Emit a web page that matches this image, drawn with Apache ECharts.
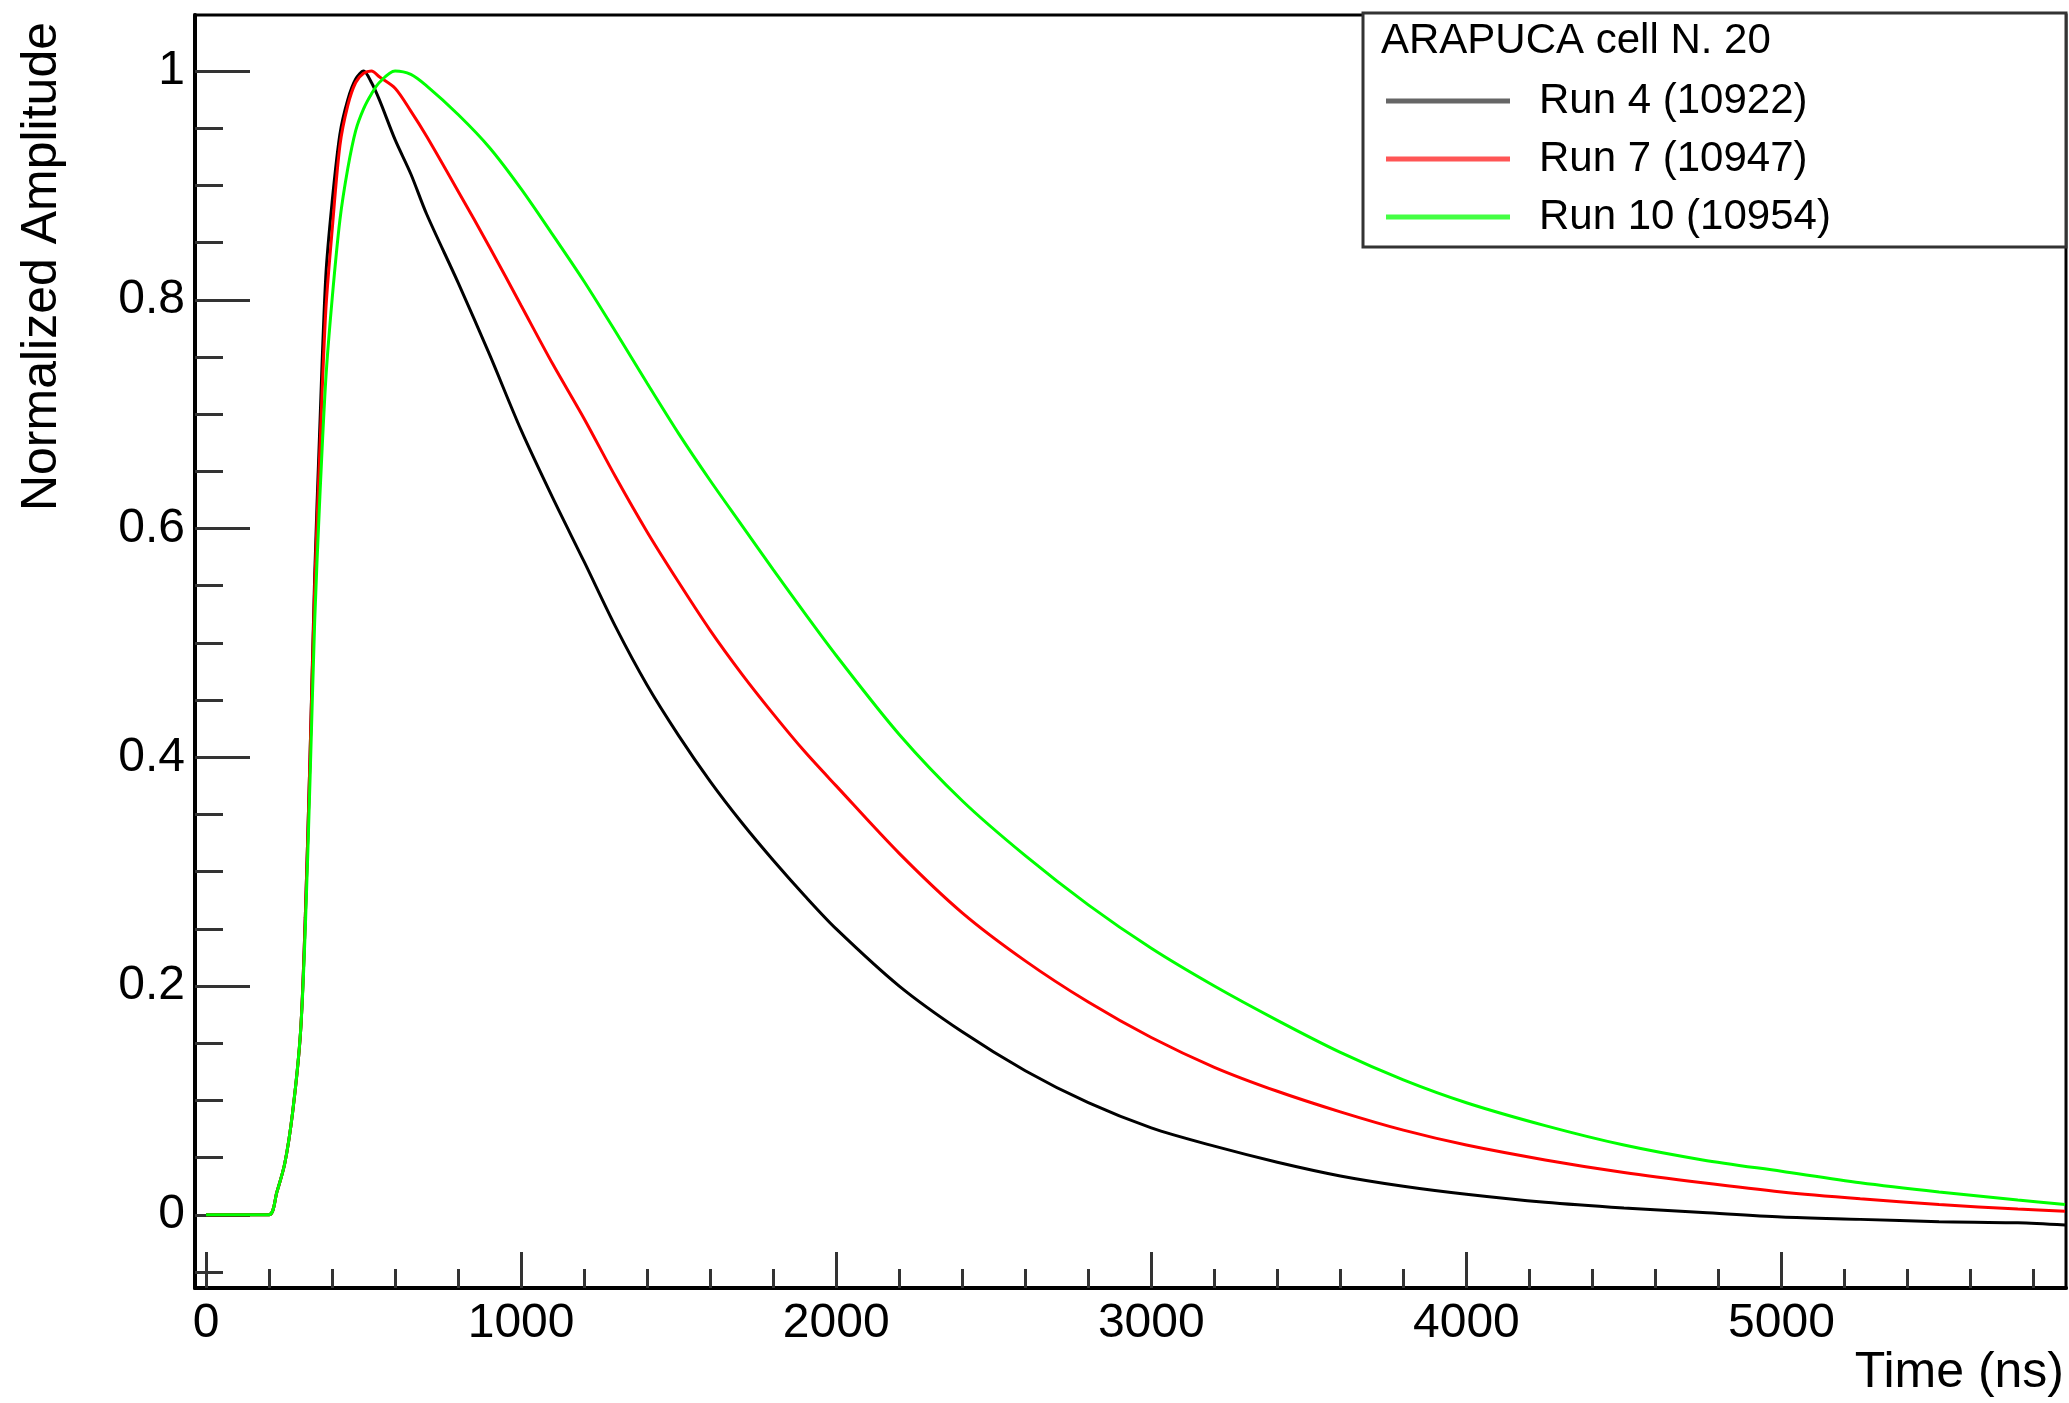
<!DOCTYPE html>
<html>
<head>
<meta charset="utf-8">
<script src="https://cdn.jsdelivr.net/npm/echarts@6/dist/echarts.min.js"></script>
<style>
html,body{margin:0;padding:0;background:#fff;}
#chart{width:2069px;height:1403px;}
</style>
</head>
<body>
<div id="chart"></div>
<script>
// ---- data ----
const timeNs = [0,100,200,225,250,275,300,315,330,345,360,380,400,425,450,475,500,525,550,600,650,700,800,900,1000,1100,1200,1300,1400,1500,1600,1700,1800,1900,2000,2200,2400,2600,2800,3000,3200,3400,3600,3800,4000,4250,4500,4750,5000,5250,5500,5750,5900];
const run4Amp = [0,0,0,0.02,0.045,0.09,0.16,0.26,0.40,0.56,0.68,0.82,0.885,0.945,0.975,0.993,1.0,0.99,0.975,0.94,0.91,0.875,0.815,0.752,0.686,0.627,0.571,0.514,0.463,0.419,0.379,0.343,0.310,0.279,0.250,0.200,0.160,0.126,0.098,0.076,0.060,0.046,0.034,0.025,0.018,0.011,0.006,0.002,-0.002,-0.004,-0.006,-0.007,-0.009];
const run7Amp = [0,0,0,0.02,0.045,0.09,0.16,0.26,0.40,0.55,0.66,0.79,0.86,0.935,0.97,0.99,0.998,1.0,0.995,0.985,0.965,0.943,0.895,0.846,0.795,0.744,0.696,0.645,0.597,0.553,0.511,0.473,0.438,0.405,0.375,0.316,0.264,0.222,0.186,0.155,0.129,0.108,0.090,0.074,0.061,0.048,0.037,0.028,0.020,0.014,0.009,0.005,0.003];
const run10Amp = [0,0,0,0.02,0.045,0.09,0.16,0.25,0.38,0.52,0.62,0.73,0.80,0.87,0.915,0.948,0.967,0.98,0.99,1.0,0.997,0.987,0.962,0.933,0.897,0.857,0.816,0.772,0.727,0.683,0.642,0.603,0.564,0.526,0.489,0.420,0.362,0.314,0.271,0.233,0.200,0.170,0.142,0.118,0.098,0.078,0.061,0.048,0.038,0.028,0.020,0.013,0.009];
const seriesNames = ['Run 4 (10922)','Run 7 (10947)','Run 10 (10954)'];
const legendTitle = 'ARAPUCA cell N. 20';
const xTitle = 'Time (ns)';
const yTitle = 'Normalized Amplitude';
const xMajorTicks = [0,1000,2000,3000,4000,5000];
const xMinorTicks = [200,400,600,800,1200,1400,1600,1800,2200,2400,2600,2800,3200,3400,3600,3800,4200,4400,4600,4800,5200,5400,5600,5800];
const yMajorTicks = [0,0.2,0.4,0.6,0.8,1];
const yMinorTicks = [-0.05,0.05,0.1,0.15,0.25,0.3,0.35,0.45,0.5,0.55,0.65,0.7,0.75,0.85,0.9,0.95];

const FONT = '"Liberation Sans", Arial, Helvetica, sans-serif';
const pairs = a => timeNs.map((t,i)=>[t,a[i]]);

const chart = echarts.init(document.getElementById('chart'), null, {renderer:'canvas'});
const xRange = {min:-35, max:5903};
const yRange = {min:-0.064, max:1.049};
const tickStyle = {color:'#333', width:3};
const lineCommon = {type:'line', xAxisIndex:0, yAxisIndex:0, showSymbol:false, symbol:'none', smooth:0.3};

chart.setOption({
  animation:false,
  backgroundColor:'#fff',
  grid:{left:195, right:3, top:15, bottom:115, show:true, borderColor:'#000', borderWidth:3, backgroundColor:'transparent'},
  xAxis:[
    {type:'value', position:'bottom', ...xRange,
     axisLine:{show:true, onZero:false, lineStyle:{color:'#000', width:4}},
     axisTick:{show:true, inside:true, length:36, lineStyle:tickStyle, customValues:xMajorTicks},
     axisLabel:{show:true, customValues:xMajorTicks, fontSize:48, color:'#000', fontFamily:FONT, margin:12, formatter:v=>String(v)},
     splitLine:{show:false}},
    {type:'value', position:'bottom', ...xRange,
     axisLine:{show:false, onZero:false},
     axisTick:{show:true, inside:true, length:19, lineStyle:tickStyle, customValues:xMinorTicks},
     axisLabel:{show:false},
     splitLine:{show:false}}
  ],
  yAxis:[
    {type:'value', position:'left', ...yRange,
     axisLine:{show:true, onZero:false, lineStyle:{color:'#000', width:4}},
     axisTick:{show:true, inside:true, length:55, lineStyle:tickStyle, customValues:yMajorTicks},
     axisLabel:{show:true, customValues:yMajorTicks, fontSize:48, color:'#000', fontFamily:FONT, margin:10, formatter:v=>String(v)},
     splitLine:{show:false}},
    {type:'value', position:'left', ...yRange,
     axisLine:{show:false, onZero:false},
     axisTick:{show:true, inside:true, length:28, lineStyle:tickStyle, customValues:yMinorTicks},
     axisLabel:{show:false},
     splitLine:{show:false}}
  ],
  legend:{
    orient:'vertical', left:1386, top:80, padding:0, z:20,
    itemWidth:124, itemHeight:5, itemGap:16, icon:'rect',
    textStyle:{fontSize:42, lineHeight:42, color:'#000', fontFamily:FONT, padding:[0,0,0,24]},
    data:[
      {name:seriesNames[0], itemStyle:{color:'#666'}},
      {name:seriesNames[1], itemStyle:{color:'#ff5555'}},
      {name:seriesNames[2], itemStyle:{color:'#44ff44'}}
    ]
  },
  title:{text:legendTitle, left:1381, top:20, padding:0, z:21,
    textStyle:{fontSize:42, lineHeight:42, fontWeight:'normal', color:'#000', fontFamily:FONT}},
  graphic:[
    {type:'rect', z:15, shape:{x:1363, y:13, width:703, height:234},
     style:{fill:'#fff', stroke:'#333', lineWidth:3}},
    {type:'text', z:15, x:42, y:22, rotation:Math.PI/2,
     style:{text:yTitle, fontSize:50, fontFamily:FONT, fill:'#000', align:'right', verticalAlign:'middle'}},
    {type:'text', z:15, x:2064, y:1373,
     style:{text:xTitle, fontSize:50, fontFamily:FONT, fill:'#000', align:'right', verticalAlign:'middle'}}
  ],
  series:[
    {...lineCommon, name:seriesNames[0], data:pairs(run4Amp), color:'#000', lineStyle:{color:'#000', width:3}, z:2},
    {...lineCommon, name:seriesNames[1], data:pairs(run7Amp), color:'#ff0000', lineStyle:{color:'#ff0000', width:3}, z:3},
    {...lineCommon, name:seriesNames[2], data:pairs(run10Amp), color:'#00ff00', lineStyle:{color:'#00ff00', width:3}, z:4}
  ]
});
</script>
</body>
</html>
